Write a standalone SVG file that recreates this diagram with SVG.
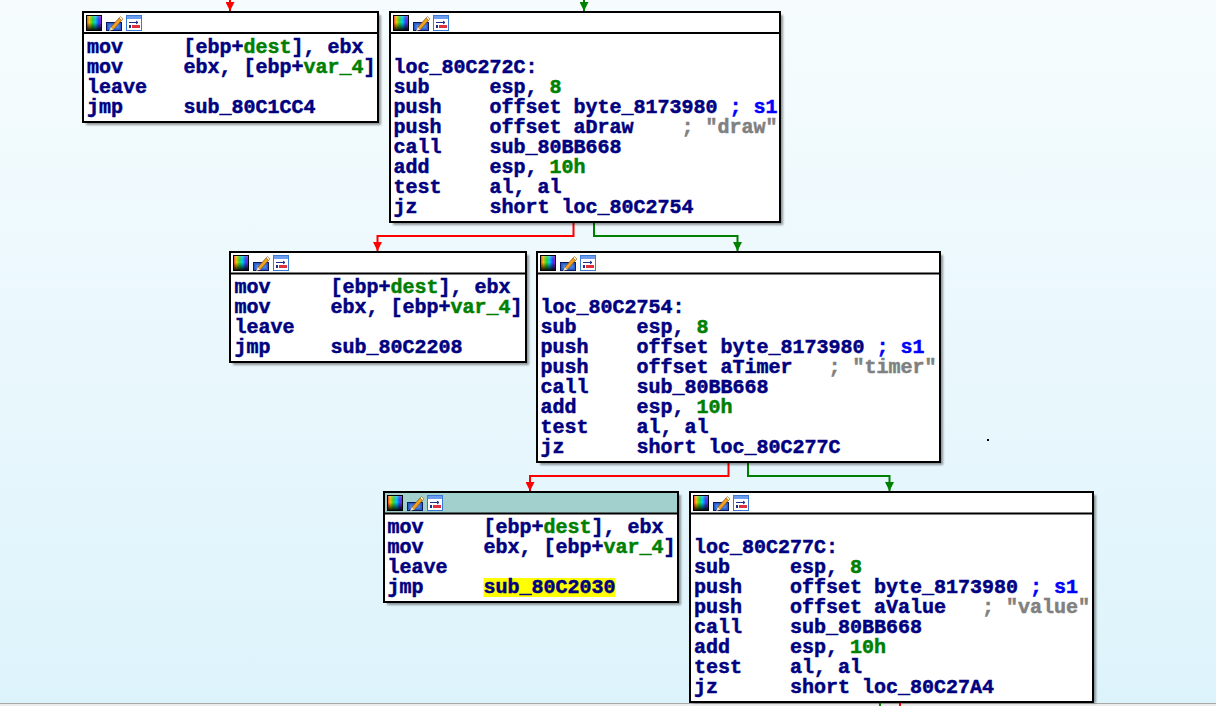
<svg xmlns="http://www.w3.org/2000/svg" xmlns:xlink="http://www.w3.org/1999/xlink" width="1216" height="706" viewBox="0 0 1216 706">
<defs>
<linearGradient id="bg" x1="0" y1="0" x2="0" y2="1">
<stop offset="0" stop-color="#f6fcfe"/>
<stop offset="1" stop-color="#ddf3fb"/>
</linearGradient>
<linearGradient id="rainbow" x1="0" y1="0" x2="1" y2="0">
<stop offset="0" stop-color="#ff0040"/>
<stop offset="0.2" stop-color="#ffd000"/>
<stop offset="0.4" stop-color="#30e030"/>
<stop offset="0.6" stop-color="#00d0ff"/>
<stop offset="0.8" stop-color="#3040ff"/>
<stop offset="1" stop-color="#d000d0"/>
</linearGradient>
<linearGradient id="shade" x1="0" y1="0" x2="0" y2="1">
<stop offset="0" stop-color="#fff" stop-opacity="0.35"/>
<stop offset="0.45" stop-color="#000" stop-opacity="0"/>
<stop offset="1" stop-color="#000" stop-opacity="1"/>
</linearGradient>
<filter id="blur" x="-5%" y="-5%" width="110%" height="110%">
<feGaussianBlur stdDeviation="1.3"/>
</filter>
<marker id="ar" viewBox="0 0 10 10" refX="10" refY="5" markerWidth="9" markerHeight="9" markerUnits="userSpaceOnUse" orient="auto">
<path d="M0,0 L10,5 L0,10 z" fill="#ff0000"/>
</marker>
<marker id="ag" viewBox="0 0 10 10" refX="10" refY="5" markerWidth="9" markerHeight="9" markerUnits="userSpaceOnUse" orient="auto">
<path d="M0,0 L10,5 L0,10 z" fill="#008000"/>
</marker>
<g id="ico">
<rect x="0" y="0" width="16" height="16" fill="url(#rainbow)"/>
<rect x="0" y="0" width="16" height="16" fill="url(#shade)"/>
<rect x="0.5" y="0.5" width="15" height="15" fill="none" stroke="#000" stroke-width="1"/>
<rect x="20.5" y="7.5" width="15" height="8" fill="#2a5cc8" stroke="#0a1a60" stroke-width="1"/>
<rect x="22.5" y="9.5" width="11" height="4" fill="#4a80e0"/>
<polygon points="25,12 33,3 35.5,5.5 27.5,14.5" fill="#f0a020" stroke="#804000" stroke-width="0.6"/>
<polygon points="33,3 34.5,1.5 37,4 35.5,5.5" fill="#fff4c0" stroke="#804000" stroke-width="0.5"/>
<polygon points="23,16 25,12 27.5,14.5" fill="#f8e0a0"/>
<rect x="40.5" y="0.5" width="15" height="15" fill="#ffffff" stroke="#3a78d8" stroke-width="1"/>
<rect x="41" y="1" width="14" height="3" fill="#6a9cf0"/>
<path d="M43,7.5 h9 M50,6 l2,1.5 l-2,1.5" fill="none" stroke="#203080" stroke-width="1"/>
<rect x="43" y="10" width="2" height="3" fill="#203080"/>
<rect x="46" y="10" width="8" height="3" fill="#e03040"/>
</g>
</defs>
<style>
.box{fill:#ffffff;stroke:#000000;stroke-width:2}
.hl{fill:#a2d1cd}
.sh{fill:#000000;opacity:0.4;filter:url(#blur)}
.div{stroke:#000000;stroke-width:2}
.t{font-family:"Liberation Mono","DejaVu Sans Mono",monospace;font-size:20px;font-weight:bold;fill:#000080;stroke:#000080;stroke-width:0.5}
.g{fill:#008000;stroke:#008000}
.b{fill:#0000ff;stroke:#0000ff}
.c{fill:#808080;stroke:#808080}
.r{fill:none;stroke:#ff0000;stroke-width:2}
.gr{fill:none;stroke:#008000;stroke-width:2}
</style>
<rect x="0" y="0" width="1216" height="706" fill="url(#bg)"/>
<rect x="0" y="703" width="1216" height="1" fill="#a8a8a8"/>
<rect x="0" y="704" width="1216" height="2" fill="#ececec"/>
<rect x="987" y="439" width="2" height="2" fill="#000"/>

<g id="connectors">
<path class="r" d="M230,0 V11" marker-end="url(#ar)"/>
<path class="gr" d="M584,0 V11" marker-end="url(#ag)"/>
<path class="r" d="M573.5,223 V236 H377.5 V251" marker-end="url(#ar)"/>
<path class="gr" d="M594,223 V236 H737.5 V251" marker-end="url(#ag)"/>
<path class="r" d="M728.5,463 V476 H530 V491" marker-end="url(#ar)"/>
<path class="gr" d="M748,463 V476 H889.5 V491" marker-end="url(#ag)"/>
<path class="gr" d="M880,703 V706"/>
<path class="r" d="M900,703 V706"/>
</g>

<g id="node1">
<rect class="sh" x="86" y="15" width="295" height="110"/>
<rect class="box" x="83" y="12" width="295" height="110"/>
<line class="div" x1="83" y1="33" x2="378" y2="33"/>
<use href="#ico" xlink:href="#ico" x="86" y="15"/>
<text class="t" x="87" y="53">mov</text><text class="t" x="183.5" y="53">[ebp+<tspan class="g">dest</tspan>], ebx</text>
<text class="t" x="87" y="73">mov</text><text class="t" x="183.5" y="73">ebx, [ebp+<tspan class="g">var_4</tspan>]</text>
<text class="t" x="87" y="93">leave</text>
<text class="t" x="87" y="113">jmp</text><text class="t" x="183.5" y="113">sub_80C1CC4</text>
</g>

<g id="node2">
<rect class="sh" x="393" y="15" width="390" height="210"/>
<rect class="box" x="390" y="12" width="390" height="210"/>
<line class="div" x1="390" y1="33" x2="780" y2="33"/>
<use href="#ico" xlink:href="#ico" x="393" y="15"/>
<text class="t" x="393.5" y="73">loc_80C272C:</text>
<text class="t" x="393.5" y="93">sub</text><text class="t" x="489.5" y="93">esp, <tspan class="g">8</tspan></text>
<text class="t" x="393.5" y="113">push</text><text class="t" x="489.5" y="113">offset byte_8173980</text><text class="t b" x="729.5" y="113">; s1</text>
<text class="t" x="393.5" y="133">push</text><text class="t" x="489.5" y="133">offset aDraw</text><text class="t c" x="681.5" y="133">; "draw"</text>
<text class="t" x="393.5" y="153">call</text><text class="t" x="489.5" y="153">sub_80BB668</text>
<text class="t" x="393.5" y="173">add</text><text class="t" x="489.5" y="173">esp, <tspan class="g">10h</tspan></text>
<text class="t" x="393.5" y="193">test</text><text class="t" x="489.5" y="193">al, al</text>
<text class="t" x="393.5" y="213">jz</text><text class="t" x="489.5" y="213">short loc_80C2754</text>
</g>

<g id="node3">
<rect class="sh" x="233" y="255" width="296" height="110"/>
<rect class="box" x="230" y="252" width="296" height="110"/>
<line class="div" x1="230" y1="273.5" x2="526" y2="273.5"/>
<use href="#ico" xlink:href="#ico" x="233" y="255"/>
<text class="t" x="234.5" y="293">mov</text><text class="t" x="330.5" y="293">[ebp+<tspan class="g">dest</tspan>], ebx</text>
<text class="t" x="234.5" y="313">mov</text><text class="t" x="330.5" y="313">ebx, [ebp+<tspan class="g">var_4</tspan>]</text>
<text class="t" x="234.5" y="333">leave</text>
<text class="t" x="234.5" y="353">jmp</text><text class="t" x="330.5" y="353">sub_80C2208</text>
</g>

<g id="node4">
<rect class="sh" x="540" y="255" width="403" height="210"/>
<rect class="box" x="537" y="252" width="403" height="210"/>
<line class="div" x1="537" y1="273.5" x2="940" y2="273.5"/>
<use href="#ico" xlink:href="#ico" x="540" y="255"/>
<text class="t" x="540.5" y="313">loc_80C2754:</text>
<text class="t" x="540.5" y="333">sub</text><text class="t" x="636.5" y="333">esp, <tspan class="g">8</tspan></text>
<text class="t" x="540.5" y="353">push</text><text class="t" x="636.5" y="353">offset byte_8173980</text><text class="t b" x="876.5" y="353">; s1</text>
<text class="t" x="540.5" y="373">push</text><text class="t" x="636.5" y="373">offset aTimer</text><text class="t c" x="828.5" y="373">; "timer"</text>
<text class="t" x="540.5" y="393">call</text><text class="t" x="636.5" y="393">sub_80BB668</text>
<text class="t" x="540.5" y="413">add</text><text class="t" x="636.5" y="413">esp, <tspan class="g">10h</tspan></text>
<text class="t" x="540.5" y="433">test</text><text class="t" x="636.5" y="433">al, al</text>
<text class="t" x="540.5" y="453">jz</text><text class="t" x="636.5" y="453">short loc_80C277C</text>
</g>

<g id="node5">
<rect class="sh" x="387" y="495" width="294" height="110"/>
<rect class="box" x="384" y="492" width="294" height="110"/>
<rect class="hl" x="385" y="493" width="292" height="20.5"/>
<line class="div" x1="384" y1="513.5" x2="678" y2="513.5"/>
<use href="#ico" xlink:href="#ico" x="387" y="495"/>
<rect x="483.5" y="578" width="132" height="19" fill="#ffff00"/>
<text class="t" x="387.5" y="533">mov</text><text class="t" x="483.5" y="533">[ebp+<tspan class="g">dest</tspan>], ebx</text>
<text class="t" x="387.5" y="553">mov</text><text class="t" x="483.5" y="553">ebx, [ebp+<tspan class="g">var_4</tspan>]</text>
<text class="t" x="387.5" y="573">leave</text>
<text class="t" x="387.5" y="593">jmp</text><text class="t" x="483.5" y="593">sub_80C2030</text>
</g>

<g id="node6">
<rect class="sh" x="693" y="495" width="403" height="208"/>
<rect class="box" x="690" y="492" width="403" height="210"/>
<line class="div" x1="690" y1="513.5" x2="1093" y2="513.5"/>
<use href="#ico" xlink:href="#ico" x="693" y="495"/>
<text class="t" x="694" y="553">loc_80C277C:</text>
<text class="t" x="694" y="573">sub</text><text class="t" x="790" y="573">esp, <tspan class="g">8</tspan></text>
<text class="t" x="694" y="593">push</text><text class="t" x="790" y="593">offset byte_8173980</text><text class="t b" x="1030" y="593">; s1</text>
<text class="t" x="694" y="613">push</text><text class="t" x="790" y="613">offset aValue</text><text class="t c" x="982" y="613">; "value"</text>
<text class="t" x="694" y="633">call</text><text class="t" x="790" y="633">sub_80BB668</text>
<text class="t" x="694" y="653">add</text><text class="t" x="790" y="653">esp, <tspan class="g">10h</tspan></text>
<text class="t" x="694" y="673">test</text><text class="t" x="790" y="673">al, al</text>
<text class="t" x="694" y="693">jz</text><text class="t" x="790" y="693">short loc_80C27A4</text>
</g>
</svg>
